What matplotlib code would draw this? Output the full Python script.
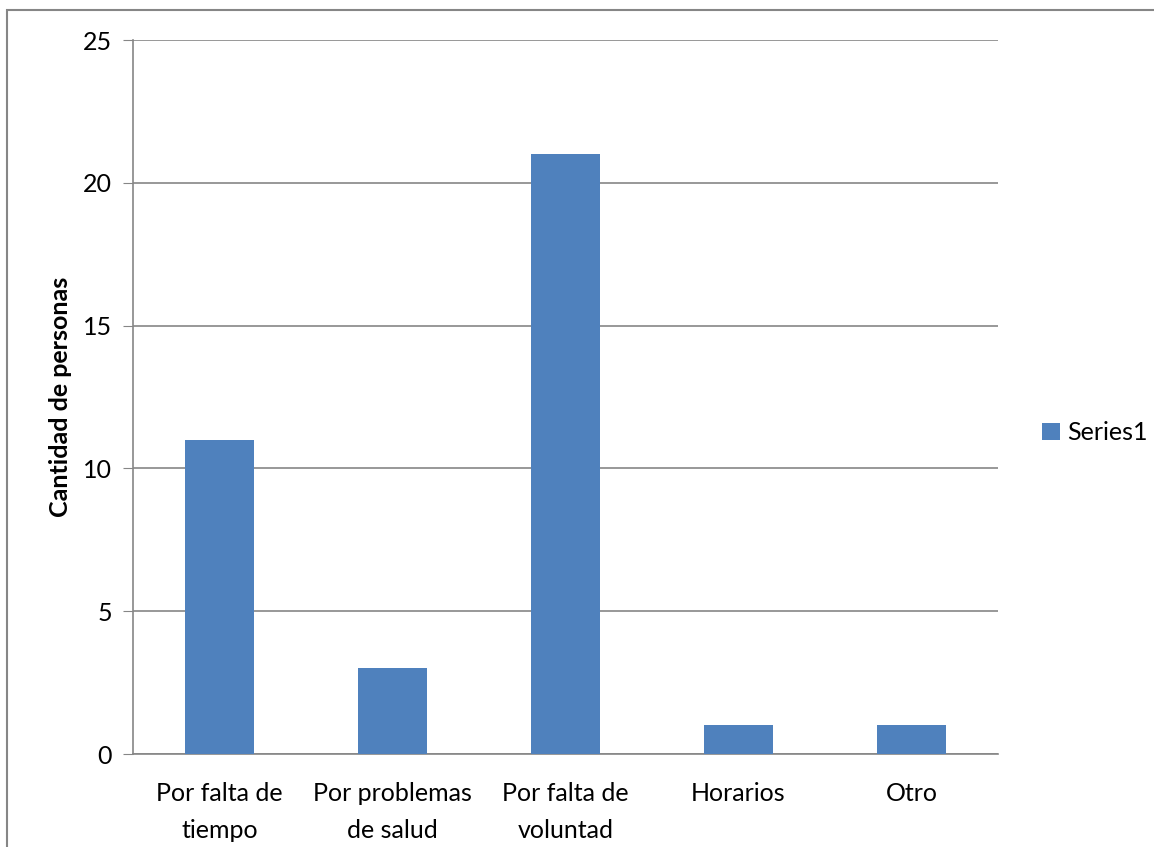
import matplotlib.pyplot as plt
from matplotlib.patches import Rectangle

categorias = ['Por falta de\ntiempo', 'Por problemas\nde salud', 'Por falta de\nvoluntad',
              'Horarios', 'Otro']
valores = [11, 3, 21, 1, 1]
yticks = [0, 5, 10, 15, 20, 25]

plt.rcParams['font.family'] = ['Lato', 'DejaVu Sans']

W, H = 1154, 847
fig = plt.figure(figsize=(W / 100, H / 100), dpi=100)
ax = fig.add_axes([133 / W, 1 - 754 / H, (998 - 133) / W, (754 - 40) / H])

gris = '#868686'
x = range(len(categorias))
ax.bar(x, valores, width=0.40, color='#4F81BD', label='Series1', zorder=3)

ax.set_xlim(-0.5, len(categorias) - 0.5)
ax.set_ylim(0, 25)
ax.set_yticks(yticks)
ax.set_xticks(list(x))
ax.set_xticklabels(categorias, fontsize=18, linespacing=1.75)
ax.tick_params(axis='y', labelsize=18, length=7, color=gris, direction='out', pad=8)
ax.tick_params(axis='x', length=0, pad=20)
ax.grid(axis='y', color=gris, linewidth=1.2, zorder=0)
for s in ['top', 'right']:
    ax.spines[s].set_visible(False)
for s in ['left', 'bottom']:
    ax.spines[s].set_color(gris)
    ax.spines[s].set_linewidth(1.2)

ax.set_ylabel('Cantidad de personas', fontsize=18, fontweight='bold', labelpad=8)

ax.legend(loc='center left', bbox_to_anchor=(1.025, 0.45), frameon=False, fontsize=18,
          handlelength=0.7, handleheight=0.7, handletextpad=0.3)

# borde del grafico
fig.patches.append(Rectangle((7 / W, -0.1), 1.2, 1 - 10 / H + 0.1, transform=fig.transFigure,
                             fill=False, edgecolor=gris, linewidth=1.5))

fig.savefig('out.png', dpi=100)
